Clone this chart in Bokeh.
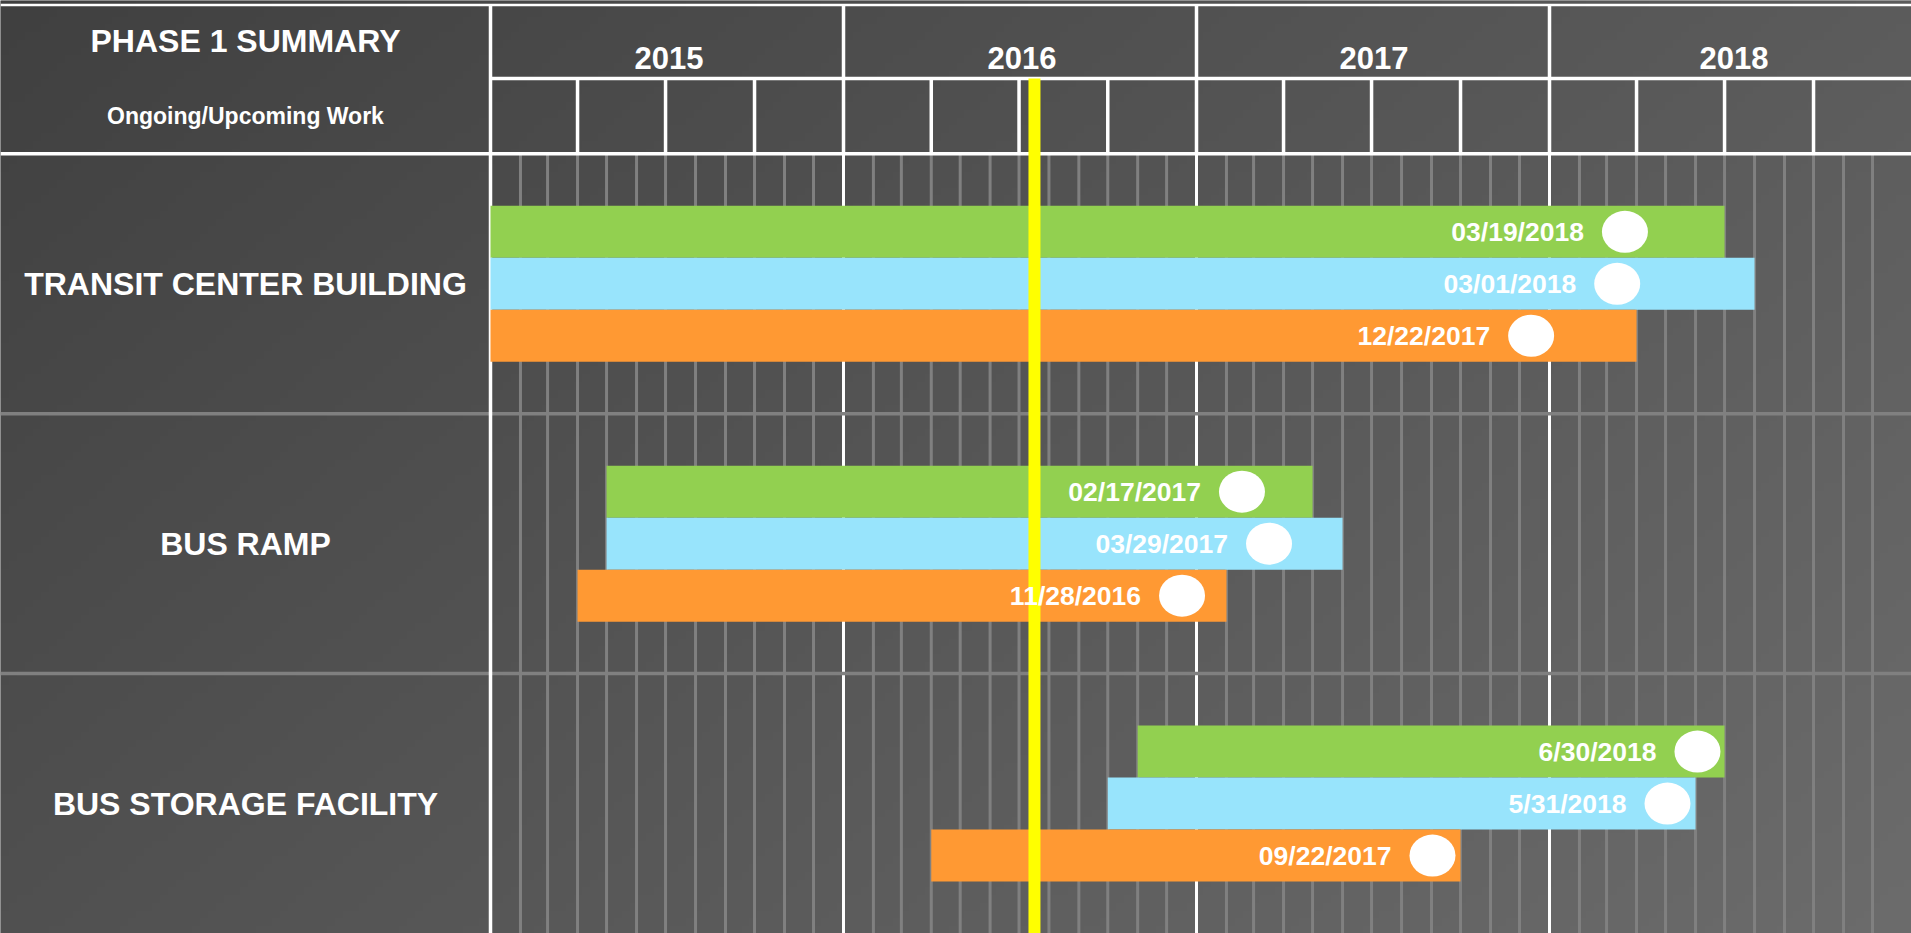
import datetime as dt
import numpy as np
from bokeh.plotting import figure
from bokeh.models import Range1d, ColumnDataSource
from bokeh.core.properties import value
from bokeh.embed import file_html
from bokeh.resources import INLINE

# ---------------- data ----------------
title = "PHASE 1 SUMMARY"
subtitle = "Ongoing/Upcoming Work"
projects = ["TRANSIT CENTER BUILDING", "BUS RAMP", "BUS STORAGE FACILITY"]
years = [2015, 2016, 2017, 2018]
year_labels = ["2015", "2016", "2017", "2018"]
today = "2016-07-17"

green_start = ["2015-01-01", "2015-05-01", "2016-11-01"]
green_end = ["2018-07-01", "2017-05-01", "2018-07-01"]
green_marker = ["2018-03-20", "2017-02-17", "2018-06-03"]
green_label = ["03/19/2018", "02/17/2017", "6/30/2018"]

blue_start = ["2015-01-01", "2015-05-01", "2016-10-01"]
blue_end = ["2018-08-01", "2017-06-01", "2018-06-01"]
blue_marker = ["2018-03-12", "2017-03-17", "2018-05-03"]
blue_label = ["03/01/2018", "03/29/2017", "5/31/2018"]

orange_start = ["2015-01-01", "2015-04-01", "2016-04-01"]
orange_end = ["2018-04-01", "2017-02-01", "2017-10-01"]
orange_marker = ["2017-12-13", "2016-12-17", "2017-09-02"]
orange_label = ["12/22/2017", "11/28/2016", "09/22/2017"]


def fy(d):
    if isinstance(d, str):
        d = dt.date.fromisoformat(d)
    y0 = dt.date(d.year, 1, 1)
    y1 = dt.date(d.year + 1, 1, 1)
    return d.year + (d - y0).days / (y1 - y0).days


# ---------------- layout ----------------
W, H = 1911, 933
PX_PER_YEAR = 353.0
X0 = 2015 - 490 / PX_PER_YEAR
X1 = 2015 + (W - 490) / PX_PER_YEAR
Y_BOT = -3.0
Y_TOP = 0.59
Y_TOPLINE = 0.573
Y_QROW = 0.29
FONT = value("Liberation Sans")
WHITE = "#ffffff"
GRAY = "#808080"

p = figure(width=W, height=H, x_range=Range1d(X0, X1), y_range=Range1d(Y_BOT, Y_TOP),
           output_backend="svg", toolbar_location=None, min_border=0,
           x_axis_type=None, y_axis_type=None)
p.grid.visible = False
p.outline_line_color = None
p.background_fill_color = "#555555"
p.border_fill_color = "#555555"

# background gradient (style only)
nx, ny = 240, 120
gx = (np.arange(nx) + 0.5) / nx * W
gy = (1 - (np.arange(ny) + 0.5) / ny) * H
v = 64 + 0.0145 * gx[None, :] + 0.0175 * gy[:, None]
img = np.empty((ny, nx), dtype=np.uint32)
view = img.view(dtype=np.uint8).reshape((ny, nx, 4))
view[..., 0] = v
view[..., 1] = v
view[..., 2] = v
view[..., 3] = 255
p.image_rgba(image=[img], x=X0, y=Y_BOT, dw=X1 - X0, dh=Y_TOP - Y_BOT)

# month grid lines in body
mx = []
for yr in years:
    for m in range(2, 13):
        mx.append(fy(dt.date(yr, m, 1)))
p.segment(x0=mx, x1=mx, y0=[Y_BOT] * len(mx), y1=[0] * len(mx), line_color=GRAY, line_width=3)

# year lines in body (white)
yx = [fy(dt.date(yr, 1, 1)) for yr in years[1:]]
p.segment(x0=yx, x1=yx, y0=[Y_BOT] * len(yx), y1=[0] * len(yx), line_color=WHITE, line_width=3)

# row separators
seps = [-(i + 1) for i in range(len(projects) - 1)]
p.segment(x0=[X0] * len(seps), x1=[X1] * len(seps), y0=seps, y1=seps, line_color=GRAY, line_width=3.5)

# panel border
p.segment(x0=[2015], x1=[2015], y0=[Y_BOT], y1=[Y_TOPLINE], line_color=WHITE, line_width=3.5)

# header lines
p.segment(x0=[X0, 2015, X0], x1=[X1, X1, X1], y0=[Y_TOPLINE, Y_QROW, 0], y1=[Y_TOPLINE, Y_QROW, 0],
          line_color=WHITE, line_width=[2.5, 3.5, 3.5])
p.segment(x0=yx, x1=yx, y0=[0] * len(yx), y1=[Y_TOPLINE] * len(yx), line_color=WHITE, line_width=3.5)
qx = []
for yr in years:
    for m in (4, 7, 10):
        qx.append(fy(dt.date(yr, m, 1)))
p.segment(x0=qx, x1=qx, y0=[0] * len(qx), y1=[Y_QROW] * len(qx), line_color=WHITE, line_width=3.5)

# bars
series = [
    ("#92D050", green_start, green_end, green_marker, green_label, 0.3),
    ("#98E4FC", blue_start, blue_end, blue_marker, blue_label, 0.5),
    ("#FF9933", orange_start, orange_end, orange_marker, orange_label, 0.7),
]
sources = []
for color, st, en, mk, lb, off in series:
    src = ColumnDataSource(dict(
        y=[-(i + off) for i in range(len(projects))],
        left=[fy(s) for s in st],
        right=[fy(e) for e in en],
        m=[fy(x) for x in mk],
        label=lb,
    ))
    sources.append(src)
    p.hbar(y="y", left="left", right="right", height=0.2, source=src,
           fill_color=color, line_color=None)

# today line
tx = fy(today)
p.segment(x0=[tx], x1=[tx], y0=[Y_BOT], y1=[Y_QROW], line_color="#FFFF00", line_width=12)

# milestone markers and labels
for src in sources:
    p.ellipse(x="m", y="y", width=46, height=42, width_units="screen", height_units="screen",
              source=src, fill_color=WHITE, line_color=None)
    p.text(x="m", y="y", text="label", source=src, x_offset=-41, text_align="right",
           text_baseline="middle", text_color=WHITE, text_font=FONT, text_font_style="bold",
           text_font_size="26.5px")

# header texts
cx = 2015 - 245 / PX_PER_YEAR
p.text(x=[cx], y=[0.433], text=[title], text_align="center", text_baseline="middle",
       text_color=WHITE, text_font=FONT, text_font_style="bold", text_font_size="32px")
p.text(x=[cx], y=[0.144], text=[subtitle], text_align="center", text_baseline="middle",
       text_color=WHITE, text_font=FONT, text_font_style="bold", text_font_size="23px")
p.text(x=[y + 0.5 for y in years], y=[0.367] * len(years), text=year_labels,
       x_offset=[2, 2, 1, 8], text_align="center",
       text_baseline="middle", text_color=WHITE, text_font=FONT, text_font_style="bold",
       text_font_size="31px")

# row labels
p.text(x=[cx] * len(projects), y=[-(i + 0.5) for i in range(len(projects))], text=projects,
       text_align="center", text_baseline="middle", text_color=WHITE, text_font=FONT,
       text_font_style="bold", text_font_size="32px")

open("out.html", "w").write(file_html(p, INLINE))
